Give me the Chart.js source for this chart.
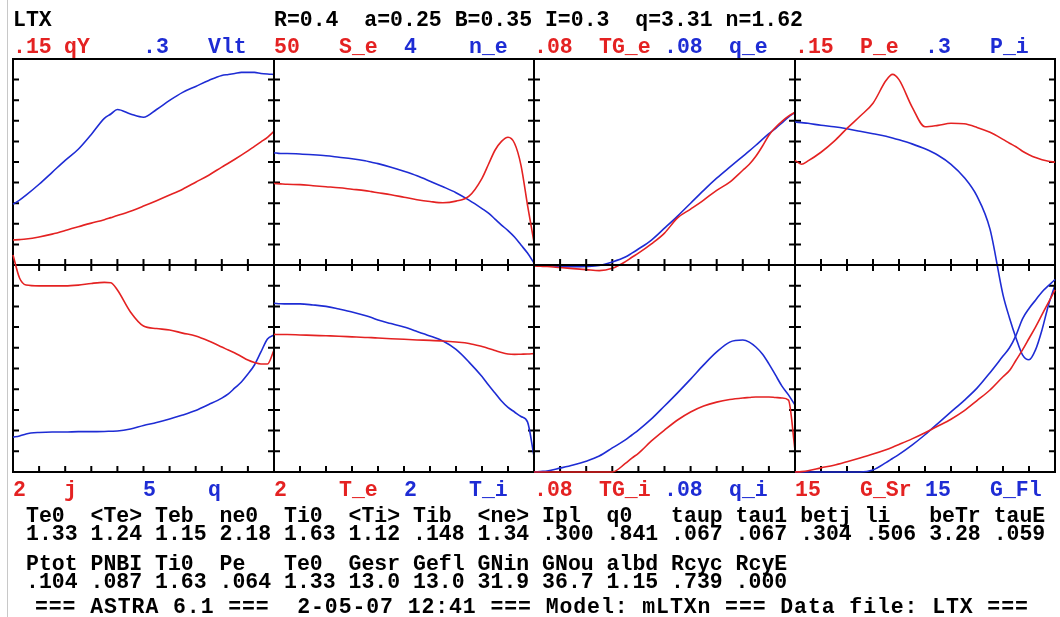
<!DOCTYPE html>
<html>
<head>
<meta charset="utf-8">
<script src="https://cdn.jsdelivr.net/npm/chart.js@4.4.1/dist/chart.umd.min.js"></script>
<style>
  body { margin: 0; background: #fff; }
  #page { position: relative; width: 1060px; height: 617px; overflow: hidden; background: #fff;
          font-family: "Liberation Mono", "DejaVu Sans Mono", monospace; font-weight: bold; }
  #edge { position: absolute; left: 7px; top: 0; width: 1px; height: 617px; background: #c8c8c8; }
  .t { position: absolute; white-space: pre; font-size: 21.5px; line-height: 22px; color: #000; }
  .r { color: rgb(228, 34, 34); }
  .b { color: rgb(30, 44, 212); }
  canvas { position: absolute; }
</style>
</head>
<body>
<div id="page"><div id="edge"></div></div>
<script>
// normalised radius, shared by all curves
const rho = [0, 0.025, 0.05, 0.1, 0.15, 0.2, 0.25, 0.3, 0.35, 0.375, 0.4, 0.45, 0.5, 0.55,
             0.6, 0.65, 0.7, 0.75, 0.8, 0.825, 0.85, 0.875, 0.9, 0.925, 0.95, 0.975, 1];

// top row
const qY = [.0182, .0185, .0189, .0204, .0225, .0251, .0279, .0305, .033, .0345, .036, .0392, .0429, .0468,
            .0509, .0552, .0603, .0654, .0713, .0741, .077, .080, .0831, .0864, .0897, .093, .0974];
const Vlt = [.0885, .0945, .1017, .1176, .135, .1524, .1686, .1902, .2136, .2199, .2265, .2199, .2151, .2265,
             .2397, .2514, .2601, .2688, .276, .2775, .279, .2805, .2805, .2805, .279, .2781, .2775];
const S_e = [19.8, 19.7, 19.6, 19.5, 19.25, 19.0, 18.75, 18.4, 18.05, 17.8, 17.55, 17.05, 16.45, 15.85,
             15.4, 15.1, 15.5, 16.7, 21.05, 24.45, 27.85, 30.0, 31.0, 29.55, 24.2, 14.55, 5.55];
const n_e = [2.18, 2.164, 2.164, 2.156, 2.14, 2.12, 2.092, 2.064, 2.024, 1.996, 1.968, 1.9, 1.82, 1.732,
             1.628, 1.52, 1.404, 1.26, 1.096, 1.008, .892, .776, .668, .544, .388, .232, .04];
const TG_e = [-.0004, -.0005, -.0006, -.001, -.0014, -.0018, -.0022, -.0013, .0013, .003, .0046, .0082, .0124, .0183,
              .0217, .0252, .029, .0322, .0368, .0391, .0422, .0461, .0504, .0534, .0558, .0578, .0593];
const q_e = [0, -.0001, -.0002, -.0006, -.0007, -.0006, -.0002, .0012, .0031, .0046, .0062, .0097, .0143, .019,
             .024, .029, .0337, .038, .0422, .0443, .0465, .0488, .051, .053, .0552, .0574, .0593];
const P_e = [.0762, .0734, .0758, .0821, .09, .0995, .1083, .1178, .1343, .1388, .135, .1152, .1007, .1017,
             .1032, .1028, .1002, .0966, .0915, .0887, .0861, .0828, .0803, .0782, .0767, .0756, .0749];
const P_i = [.2082, .2073, .2064, .2034, .2013, .1983, .1947, .1911, .1875, .1851, .1824, .1764, .1692, .1599,
             .1467, .1278, .1002, .0522, -.0435, -.0771, -.1062, -.1308, -.138, -.1236, -.0945, -.0582, -.0291];

// bottom row
const j = [2.096, 1.874, 1.806, 1.798, 1.798, 1.798, 1.806, 1.822, 1.832, 1.828, 1.758, 1.546, 1.41, 1.386,
           1.372, 1.342, 1.314, 1.266, 1.208, 1.178, 1.15, 1.116, 1.082, 1.058, 1.044, 1.044, 1.178];
const q = [.841, .87, .92, .955, .965, .965, .975, .975, .98, .985, .99, 1.04, 1.125, 1.195,
           1.28, 1.375, 1.485, 1.63, 1.785, 1.885, 2.03, 2.175, 2.365, 2.585, 2.9, 3.215, 3.31];
const T_e = [1.33, 1.328, 1.328, 1.324, 1.32, 1.316, 1.312, 1.306, 1.3, 1.298, 1.294, 1.288, 1.282, 1.276,
             1.272, 1.266, 1.256, 1.242, 1.212, 1.194, 1.174, 1.154, 1.14, 1.136, 1.138, 1.14, 1.144];
const T_i = [1.63, 1.626, 1.624, 1.624, 1.614, 1.6, 1.574, 1.546, 1.512, 1.492, 1.468, 1.434, 1.4, 1.358,
             1.314, 1.266, 1.184, 1.062, .922, .84, .764, .686, .624, .58, .536, .484, .154];
const TG_i = [0, 0, 0, 0, 0, 0, 0, 0, .0033, .0054, .0072, .012, .0162, .0201,
              .0232, .0255, .027, .028, .0286, .0288, .029, .029, .029, .0288, .0286, .0278, .0085];
const q_i = [0, .0002, .0004, .0015, .0027, .0042, .0062, .0093, .0124, .0143, .0162, .0205, .0255, .0306,
             .0359, .0414, .0464, .0502, .051, .0502, .0483, .0456, .0418, .0375, .0332, .0298, .0259];
const G_Sr = [0, .03, .09, .3, .495, .75, 1.02, 1.305, 1.62, 1.8, 1.995, 2.4, 2.85, 3.33,
              3.825, 4.425, 5.175, 5.94, 6.9, 7.35, 8.1, 8.85, 9.675, 10.5, 11.4, 12.3, 13.2];
const G_Fl = [0, 0, 0, 0, 0, 0, 0, .15, .675, .975, 1.275, 1.95, 2.7, 3.525,
              4.35, 5.175, 6.075, 7.2, 8.4, 9.0, 9.9, 11.1, 11.85, 12.45, 13.05, 13.5, 13.95];

// panel scales and labels: [red scale, red name, blue scale, blue name]
const scaleLabels = [
  ['.15', 'qY', '.3', 'Vlt'], ['50', 'S_e', '4', 'n_e'], ['.08', 'TG_e', '.08', 'q_e'], ['.15', 'P_e', '.3', 'P_i'],
  ['2', 'j', '5', 'q'], ['2', 'T_e', '2', 'T_i'], ['.08', 'TG_i', '.08', 'q_i'], ['15', 'G_Sr', '15', 'G_Fl']
];
const redMax = [.15, 50, .08, .15, 2, 2, .08, 15];
const blueMax = [.3, 4, .08, .3, 5, 2, .08, 15];
const redData = [qY, S_e, TG_e, P_e, j, T_e, TG_i, G_Sr];
const blueData = [Vlt, n_e, q_e, P_i, q, T_i, q_i, G_Fl];

const header = ['LTX', 'R=0.4  a=0.25 B=0.35 I=0.3  q=3.31 n=1.62'];
const infoNames1 = 'Te0  <Te> Teb  ne0  Ti0  <Ti> Tib  <ne> Ipl  q0   taup tau1 betj li   beTr tauE';
const infoVals1  = '1.33 1.24 1.15 2.18 1.63 1.12 .148 1.34 .300 .841 .067 .067 .304 .506 3.28 .059';
const infoNames2 = 'Ptot PNBI Ti0  Pe   Te0  Gesr Gefl GNin GNou albd Rcyc RcyE';
const infoVals2  = '.104 .087 1.63 .064 1.33 13.0 13.0 31.9 36.7 1.15 .739 .000';
const footer = '=== ASTRA 6.1 ===  2-05-07 12:41 === Model: mLTXn === Data file: LTX ===';

const RED = 'rgb(228, 34, 34)';
const BLUE = 'rgb(30, 44, 212)';
const colLeft = [13, 274, 534, 795, 1055];
const rowTop = [59, 265, 472];
const PAD = 110;

const page = document.getElementById('page');

function addText(txt, x, y, cls) {
  const d = document.createElement('div');
  d.className = 't' + (cls ? ' ' + cls : '');
  d.style.left = x + 'px';
  d.style.top = y + 'px';
  d.textContent = txt;
  page.appendChild(d);
  return d;
}

// frame with inward ticks, 10 divisions on each axis
const framePlugin = {
  id: 'frame',
  beforeDatasetsDraw(chart, args, opts) {
    const { ctx, chartArea: a } = chart;
    const xs = chart.scales.x, ys = chart.scales.yR;
    ctx.save();
    ctx.strokeStyle = '#000';
    ctx.lineWidth = 2;
    ctx.strokeRect(a.left, a.top, a.right - a.left, a.bottom - a.top);
    ctx.beginPath();
    for (let i = 1; i < 10; i++) {
      const px = xs.getPixelForValue(xs.min + i * (xs.max - xs.min) / 10);
      ctx.moveTo(px, a.bottom); ctx.lineTo(px, a.bottom - 6);
      if (opts.topTicks) { ctx.moveTo(px, a.top); ctx.lineTo(px, a.top + 6); }
      const py = ys.getPixelForValue(ys.min + i * (ys.max - ys.min) / 10);
      ctx.moveTo(a.left, py); ctx.lineTo(a.left + 6, py);
      ctx.moveTo(a.right, py); ctx.lineTo(a.right - 6, py);
    }
    ctx.stroke();
    ctx.restore();
  }
};

function pts(vals) {
  return rho.map((r, i) => ({ x: r, y: vals[i] }));
}

for (let p = 0; p < 8; p++) {
  const row = Math.floor(p / 4), col = p % 4;
  const left = colLeft[col], top = rowTop[row];
  const w = colLeft[col + 1] - left, h = rowTop[row + 1] - top;

  const cv = document.createElement('canvas');
  cv.width = w + 2 * PAD;
  cv.height = h + 2 * PAD;
  cv.style.left = (left - PAD) + 'px';
  cv.style.top = (top - PAD) + 'px';
  page.appendChild(cv);

  new Chart(cv.getContext('2d'), {
    type: 'line',
    data: {
      datasets: [
        { data: pts(redData[p]), yAxisID: 'yR', borderColor: RED },
        { data: pts(blueData[p]), yAxisID: 'yB', borderColor: BLUE }
      ]
    },
    options: {
      responsive: false,
      animation: false,
      events: [],
      layout: { padding: PAD },
      elements: {
        line: { borderWidth: 1.6, cubicInterpolationMode: 'monotone', fill: false },
        point: { radius: 0 }
      },
      datasets: { line: { clip: false } },
      scales: {
        x: { type: 'linear', min: 0, max: 1, display: false },
        yR: { type: 'linear', min: 0, max: redMax[p], display: false },
        yB: { type: 'linear', min: 0, max: blueMax[p], display: false }
      },
      plugins: {
        legend: { display: false },
        tooltip: { enabled: false },
        frame: { topTicks: row === 1 }
      }
    },
    plugins: [framePlugin]
  });

  // scale labels above (top row) or below (bottom row) the panel
  const ly = row === 0 ? 36 : 479;
  const offs = [0, col === 0 ? 51 : 65, 130, 195];
  const lab = scaleLabels[p];
  addText(lab[0], left + offs[0], ly, 'r');
  addText(lab[1], left + offs[1], ly, 'r');
  addText(lab[2], left + offs[2], ly, 'b');
  addText(lab[3], left + offs[3], ly, 'b');
}

addText(header[0], 13, 9);
addText(header[1], 274, 9);
addText(infoNames1, 26, 505);
addText(infoVals1, 26, 523);
addText(infoNames2, 26, 553);
addText(infoVals2, 26, 571);
addText(footer, 35, 596).style.letterSpacing = '0.9px';
</script>
</body>
</html>
